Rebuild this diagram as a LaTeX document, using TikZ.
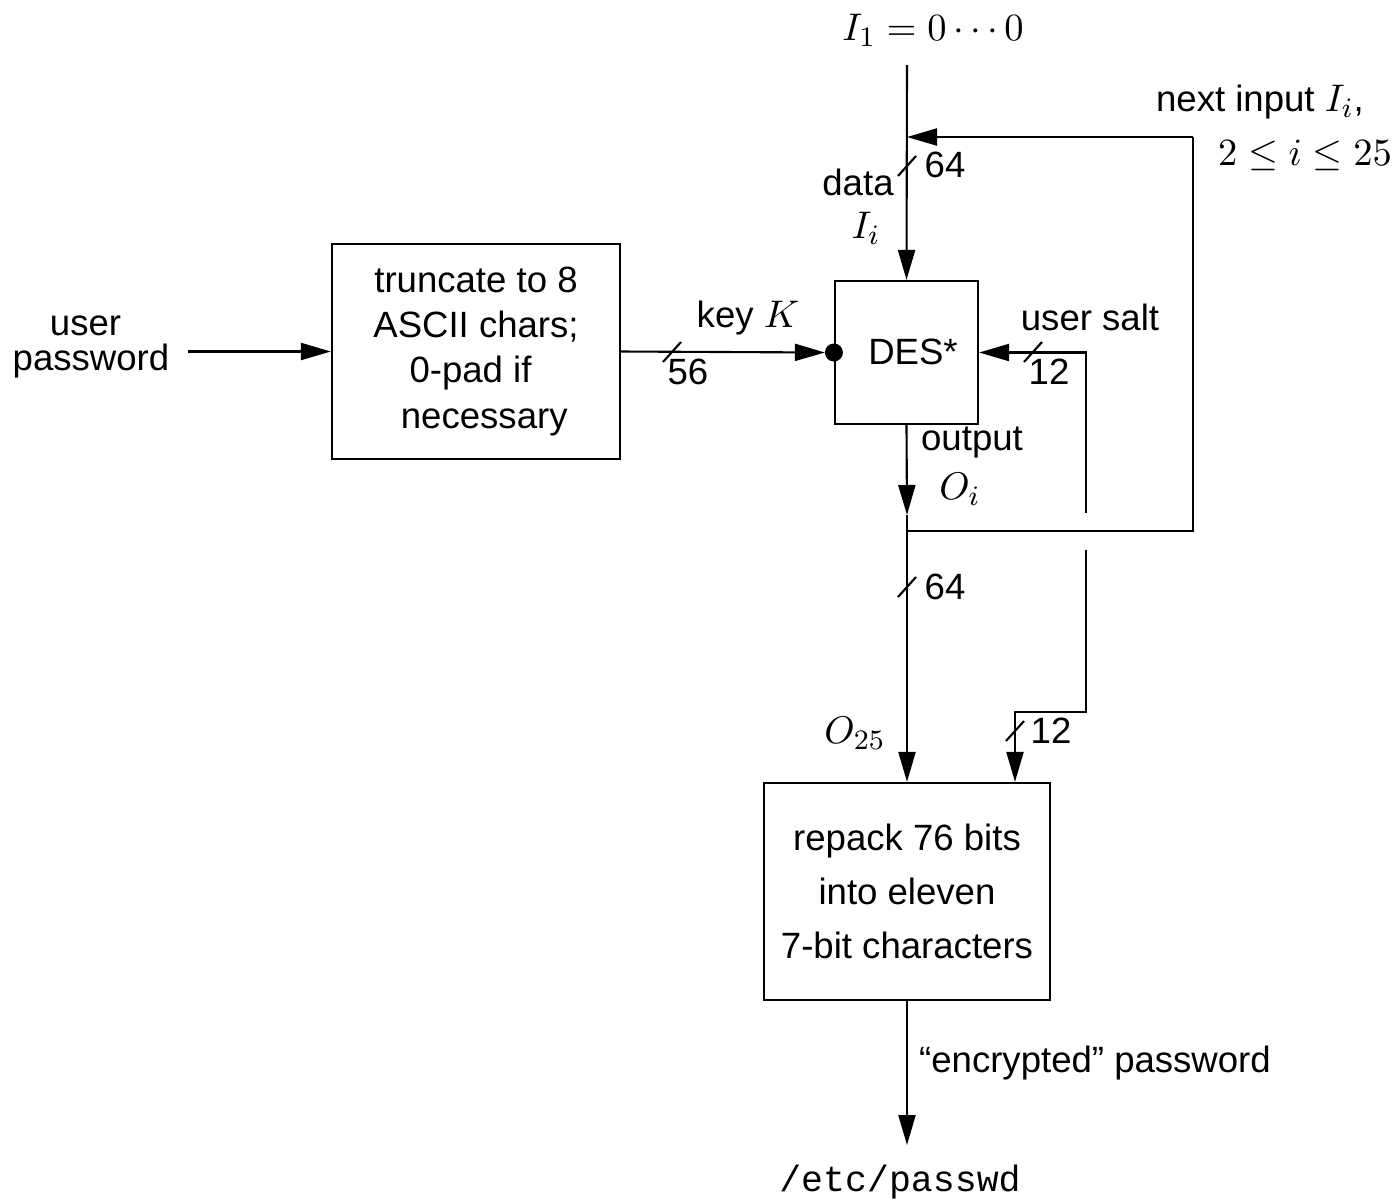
\documentclass[tikz,border=0pt]{standalone}
\usepackage{fontspec}
\setmainfont{Liberation Sans}
\setmonofont{Liberation Mono}
\usetikzlibrary{arrows.meta}
\newcommand{\mth}[1]{{\fontsize{11.3}{13}\selectfont$#1$}}
\begin{document}
\begin{tikzpicture}[x=0.01cm,y=-0.01cm,
  line width=0.6pt,
  arr/.style={-{Triangle[length=3mm,width=1.7mm]}},
  lbl/.style={inner sep=0pt,font=\fontsize{10.4}{12}\selectfont},
  blk/.style={draw,inner sep=0pt,align=center}]
\useasboundingbox (0,0) rectangle (1396,1199);
% blocks
\node[blk,minimum width=2.88cm,minimum height=2.15cm,font=\fontsize{10.4}{12.8}\selectfont] (trunc) at (476,351.5)
  {truncate to 8\\ASCII chars;\\\hspace*{-0.3em}0-pad if\\\hspace*{0.45em}necessary};
\node[blk,minimum width=1.43cm,minimum height=1.43cm] (des) at (906.5,352.5) {};
\node[lbl] (destxt) at (913,352) {DES*};
\node[blk,minimum width=2.86cm,minimum height=2.17cm,font=\fontsize{10.4}{15.4}\selectfont] (rep) at (907,891.5)
  {repack 76 bits\\into eleven\\7-bit characters};
% labels
\node[lbl] (i1) at (933,30) {\mth{I_1 = 0\cdots0}};
\node[lbl] (next) at (1260,102) {next input \mth{I_i},};
\node[lbl] (range) at (1305,155) {\mth{2\le i\le 25}};
\node[lbl] (data) at (858,182) {data};
\node[lbl] (ii) at (866,228) {\mth{I_i}};
\node[lbl] (n64a) at (945,165) {64};
\node[lbl] (key) at (748,318) {key \mth{K}};
\node[lbl] (n56) at (688,372) {56};
\node[lbl] (salt) at (1090,317) {user salt};
\node[lbl] (n12a) at (1049,372) {12};
\node[lbl] (outp) at (972,442) {output};
\node[lbl] (oi) at (960,489) {\mth{O_i}};
\node[lbl] (n64b) at (945,587) {64};
\node[lbl] (o25) at (855,733) {\mth{O_{25}}};
\node[lbl] (n12b) at (1051,731) {12};
\node[lbl,align=center,font=\fontsize{10.4}{10}\selectfont] (user) at (91,347) {\hspace*{-0.3em}user\\password};
\node[lbl] (enc) at (1095,1063) {``encrypted'' password};
\node[lbl,font=\fontsize{10.4}{12}\ttfamily] (etc) at (900,1182) {/etc/passwd};
% coordinates
\coordinate (top) at (907,65);
\coordinate (fbL) at (907,137);
\coordinate (fbR) at (1193,137);
\coordinate (fbB) at (1193,531);
\coordinate (junc) at (907,531);
\coordinate (oarr) at (907,515);
\coordinate (s1) at (1086,513);
\coordinate (s2) at (1086,352.5);
\coordinate (s3) at (1086,550);
\coordinate (s4) at (1086,712);
\coordinate (s5) at (1015,712);
\coordinate (up) at (188,351.5);
\coordinate (ptip) at (907,1145);
% connectors
\draw[arr] (top) -- (des.north);
\draw[arr] (fbR) -- (fbL);
\draw (fbR) -- (fbB) -- (junc);
\draw[arr] (des.south) -- (oarr);
\draw (oarr) -- (junc);
\draw[arr] (junc) -- (rep.north);
\draw[arr] (up) -- (trunc.west);
\fill (des.west) circle (9);
\draw[arr] (trunc.east) -- ([xshift=-0.09cm]des.west);
\draw[arr] (s1) -- (s2) -- (des.east);
\draw[arr] (s3) -- (s4) -- (s5) -- (s5 |- rep.north);
\draw[arr] (rep.south) -- (ptip);
% bus slashes
\foreach \p in {(907,166),(672,352),(1033,352),(907,587),(1015,731)}
  \draw \p ++(-9,10) -- ++(18,-20);
\end{tikzpicture}
\end{document}
